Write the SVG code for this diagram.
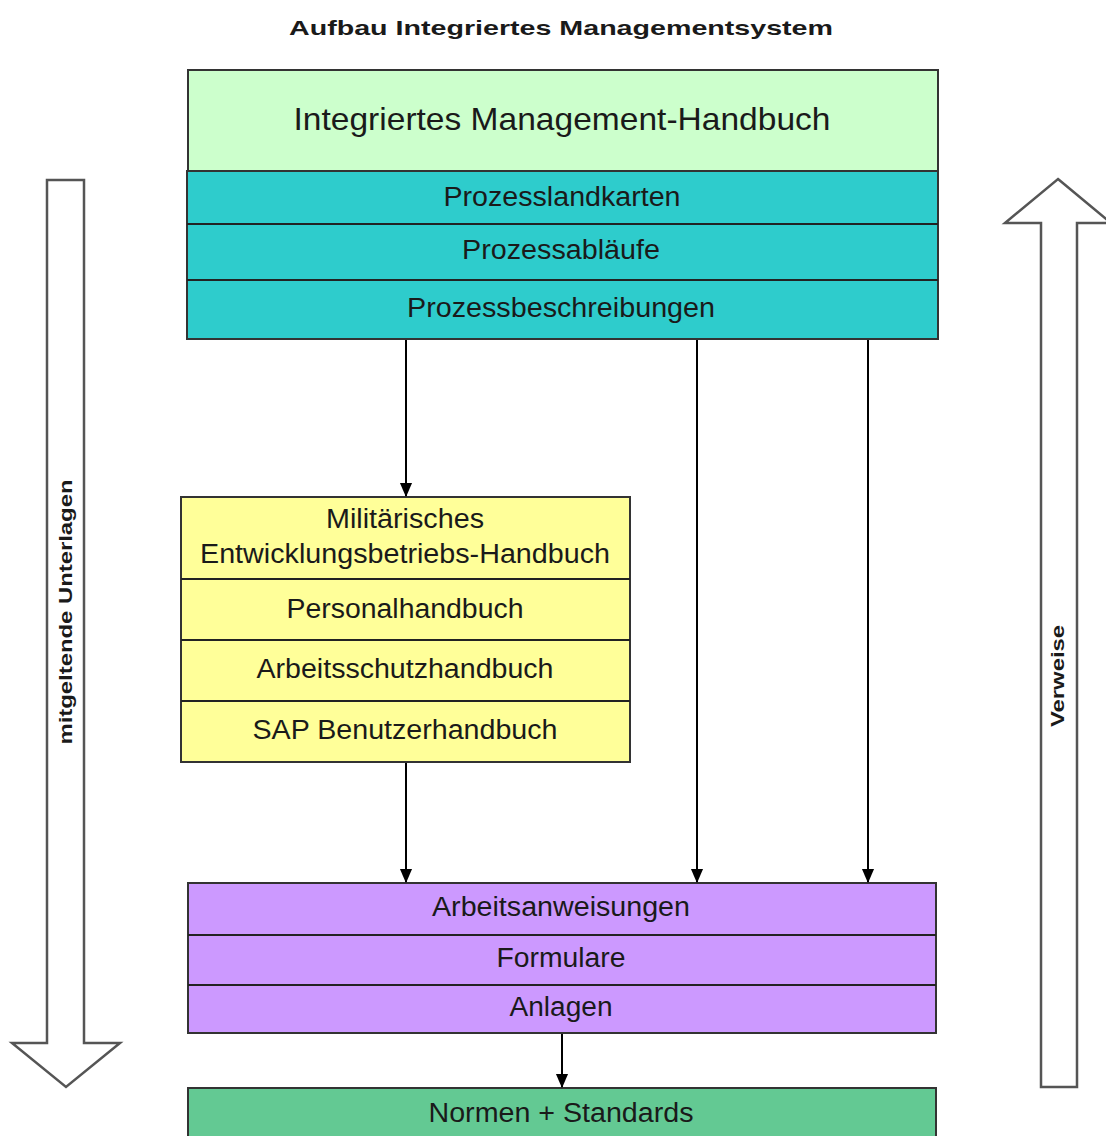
<svg xmlns="http://www.w3.org/2000/svg" width="1106" height="1136" viewBox="0 0 1106 1136">
<style>
  text { font-family: "Liberation Sans", Arial, sans-serif; fill: #1a1a1a; text-anchor: middle; }
  .title { font-size: 21px; font-weight: bold; }
  .side { font-size: 19px; font-weight: bold; }
  .big { font-size: 32px; }
  .lbl { font-size: 27px; }
  .box { stroke: #333; stroke-width: 2; }
  .sep { stroke: #222; stroke-width: 2; }
  .conn { stroke: #000; stroke-width: 2; fill: none; }
  .bigarrow { fill: #fff; stroke: #555; stroke-width: 2.5; stroke-linejoin: miter; }
</style>
<defs>
  <marker id="tri" markerWidth="14" markerHeight="16" refX="15" refY="7" orient="auto" markerUnits="userSpaceOnUse" viewBox="0 0 16 14">
    <path d="M0,0 L16,7 L0,14 Z" fill="#000"/>
  </marker>
</defs>

<text class="title" x="561" y="35" textLength="544" lengthAdjust="spacingAndGlyphs">Aufbau Integriertes Managementsystem</text>

<g id="arrow-left">
  <polygon class="bigarrow" points="47,180 84,180 84,1043 120,1043 66,1087 12,1043 47,1043"/>
  <text class="side" transform="translate(72,612) rotate(-90)" textLength="265" lengthAdjust="spacingAndGlyphs">mitgeltende Unterlagen</text>
</g>

<g id="arrow-right">
  <polygon class="bigarrow" points="1058,179 1111,223 1077,223 1077,1087 1041,1087 1041,223 1005,223"/>
  <text class="side" transform="translate(1064,676) rotate(-90)" textLength="102" lengthAdjust="spacingAndGlyphs">Verweise</text>
</g>

<g id="imh">
  <rect class="box" x="188" y="70" width="750" height="101" fill="#CCFFCC"/>
  <text class="big" x="562" y="130" textLength="537" lengthAdjust="spacingAndGlyphs">Integriertes Management-Handbuch</text>
</g>

<g id="prozess">
  <rect class="box" x="187" y="171" width="751" height="168" fill="#2ECCCC"/>
  <line class="sep" x1="187" y1="224" x2="938" y2="224"/>
  <line class="sep" x1="187" y1="280" x2="938" y2="280"/>
  <text class="lbl" x="562" y="206" textLength="237" lengthAdjust="spacingAndGlyphs">Prozesslandkarten</text>
  <text class="lbl" x="561" y="259" textLength="198" lengthAdjust="spacingAndGlyphs">Prozessabläufe</text>
  <text class="lbl" x="561" y="317" textLength="308" lengthAdjust="spacingAndGlyphs">Prozessbeschreibungen</text>
</g>

<g id="handbuecher">
  <rect class="box" x="181" y="497" width="449" height="265" fill="#FFFF99"/>
  <line class="sep" x1="181" y1="579" x2="630" y2="579"/>
  <line class="sep" x1="181" y1="640" x2="630" y2="640"/>
  <line class="sep" x1="181" y1="701" x2="630" y2="701"/>
  <text class="lbl" x="405" y="528" textLength="158" lengthAdjust="spacingAndGlyphs">Militärisches</text>
  <text class="lbl" x="405" y="563" textLength="410" lengthAdjust="spacingAndGlyphs">Entwicklungsbetriebs-Handbuch</text>
  <text class="lbl" x="405" y="618" textLength="237" lengthAdjust="spacingAndGlyphs">Personalhandbuch</text>
  <text class="lbl" x="405" y="678" textLength="297" lengthAdjust="spacingAndGlyphs">Arbeitsschutzhandbuch</text>
  <text class="lbl" x="405" y="739" textLength="305" lengthAdjust="spacingAndGlyphs">SAP Benutzerhandbuch</text>
</g>

<g id="anweisungen">
  <rect class="box" x="188" y="883" width="748" height="150" fill="#CC99FF"/>
  <line class="sep" x1="188" y1="935" x2="936" y2="935"/>
  <line class="sep" x1="188" y1="985" x2="936" y2="985"/>
  <text class="lbl" x="561" y="916" textLength="258" lengthAdjust="spacingAndGlyphs">Arbeitsanweisungen</text>
  <text class="lbl" x="561" y="967" textLength="129" lengthAdjust="spacingAndGlyphs">Formulare</text>
  <text class="lbl" x="561" y="1016" textLength="103" lengthAdjust="spacingAndGlyphs">Anlagen</text>
</g>

<g id="normen">
  <rect class="box" x="188" y="1088" width="748" height="60" fill="#63C993"/>
  <text class="lbl" x="561" y="1122" textLength="265" lengthAdjust="spacingAndGlyphs">Normen + Standards</text>
</g>

<g id="connectors">
  <line class="conn" x1="406" y1="340" x2="406" y2="496" marker-end="url(#tri)"/>
  <line class="conn" x1="697" y1="340" x2="697" y2="882" marker-end="url(#tri)"/>
  <line class="conn" x1="868" y1="340" x2="868" y2="882" marker-end="url(#tri)"/>
  <line class="conn" x1="406" y1="763" x2="406" y2="882" marker-end="url(#tri)"/>
  <line class="conn" x1="562" y1="1034" x2="562" y2="1087" marker-end="url(#tri)"/>
</g>
</svg>
